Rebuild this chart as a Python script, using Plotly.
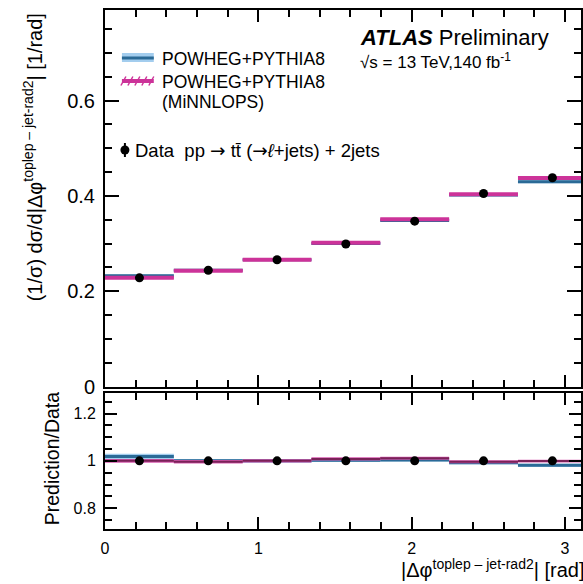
import numpy as np
import plotly.graph_objects as go

# ---------------- data ----------------
bin_edges = [0.0, 0.449, 0.898, 1.346, 1.795, 2.244, 2.693, 3.142]
data_vals = [0.2280, 0.2440, 0.2660, 0.2990, 0.3470, 0.4050, 0.4380]
data_errs = [0.0020, 0.0020, 0.0020, 0.0022, 0.0025, 0.0028, 0.0030]
powheg_vals = [0.2323, 0.2440, 0.2660, 0.2999, 0.3484, 0.4018, 0.4297]
powheg_unc = [0.0025, 0.0020, 0.0020, 0.0022, 0.0025, 0.0028, 0.0030]
minnlo_vals = [0.2280, 0.2430, 0.2660, 0.3014, 0.3508, 0.4034, 0.4376]
minnlo_unc = [0.0018, 0.0018, 0.0018, 0.0020, 0.0022, 0.0025, 0.0026]

x_ticks = [0, 1, 2, 3]

# ---------------- helpers ----------------
edges = np.array(bin_edges)
lo, hi = edges[:-1], edges[1:]
centers = (lo + hi) / 2


def seg(vals):
    xs, ys = [], []
    for a, b, v in zip(lo, hi, vals):
        xs += [a, b, None]
        ys += [v, v, None]
    return xs, ys


def band(vals, errs):
    xs, ys = [], []
    for a, b, v, e in zip(lo, hi, vals, errs):
        xs += [a, b, b, a, a, None]
        ys += [v - e, v - e, v + e, v + e, v - e, None]
    return xs, ys


data = np.array(data_vals)
r_pow = np.array(powheg_vals) / data
r_pow_e = np.array(powheg_unc) / data
r_min = np.array(minnlo_vals) / data
r_min_e = np.array(minnlo_unc) / data
r_dat = data / data

BLUE = "#2b6a96"
BLUE_BAND = "#a3cdee"
PINK = "#cc3399"
PINK_BAND = "#d65aae"
PINK_DARK = "#7a2258"

fig = go.Figure()

def add_set(xa, ya, pv, pe, mv, me, dv, de, ratio=False):
    x, y = band(pv, pe)
    fig.add_trace(go.Scatter(x=x, y=y, fill="toself", fillcolor=BLUE_BAND, line=dict(width=0),
                             mode="lines", hoverinfo="skip", showlegend=False, xaxis=xa, yaxis=ya))
    x, y = seg(pv)
    fig.add_trace(go.Scatter(x=x, y=y, mode="lines", line=dict(color=BLUE, width=3),
                             showlegend=False, xaxis=xa, yaxis=ya))
    x, y = band(mv, me)
    fig.add_trace(go.Scatter(x=x, y=y, fill="toself", fillcolor=PINK_BAND, line=dict(width=0),
                             mode="lines", hoverinfo="skip", showlegend=False, xaxis=xa, yaxis=ya))
    x, y = seg(mv)
    fig.add_trace(go.Scatter(x=x, y=y, mode="lines",
                             line=dict(color=PINK_DARK if ratio else PINK, width=2 if ratio else 4),
                             showlegend=False, xaxis=xa, yaxis=ya))
    fig.add_trace(go.Scatter(x=centers, y=dv, mode="markers",
                             marker=dict(color="black", size=9),
                             error_y=dict(type="data", array=de, color="black", thickness=2, width=0),
                             showlegend=False, xaxis=xa, yaxis=ya))

add_set("x", "y", powheg_vals, powheg_unc, minnlo_vals, minnlo_unc, data_vals, data_errs)
add_set("x2", "y2", r_pow, r_pow_e, r_min, r_min_e, r_dat, np.array(data_errs) / data, ratio=True)

# ---------------- layout ----------------
W, H = 583, 584
L, R, T, B = 105, 0, 10, 55
PW, PH = W - L - R, H - T - B


def PX(x):
    return (x - L) / PW


def PY(y):
    return (H - B - y) / PH


FONT = "Liberation Sans, Arial, Helvetica, sans-serif"
XMAX = 3.104

axis_common = dict(showgrid=False, zeroline=False, showline=True, linecolor="black", linewidth=2,
                   mirror="ticks", ticks="inside", tickcolor="black", tickwidth=2)

fig.update_layout(
    width=W, height=H, margin=dict(l=L, r=R, t=T, b=B),
    paper_bgcolor="white", plot_bgcolor="white",
    font=dict(family=FONT, color="black"),
    showlegend=False,
    xaxis=dict(domain=[0, 1], anchor="y", range=[0, XMAX], tickvals=x_ticks, showticklabels=False,
               ticklen=12, minor=dict(dtick=0.2, tick0=0, ticks="inside", ticklen=7, tickwidth=2, tickcolor="black"),
               **axis_common),
    yaxis=dict(domain=[PY(386.5), 1], anchor="x", range=[0, 0.79], dtick=0.2, tick0=0, ticklen=14,
               tickfont=dict(size=20, family=FONT), ticklabelstandoff=4,
               minor=dict(dtick=0.05, tick0=0, ticks="inside", ticklen=7, tickwidth=2, tickcolor="black"),
               **axis_common),
    xaxis2=dict(domain=[0, 1], anchor="y2", range=[0, XMAX], tickvals=x_ticks, matches="x",
                ticklen=12, tickfont=dict(size=16, family=FONT), ticklabelstandoff=4,
                minor=dict(dtick=0.2, tick0=0, ticks="inside", ticklen=7, tickwidth=2, tickcolor="black"),
                **axis_common),
    yaxis2=dict(domain=[0, PY(392.7)], anchor="x2", range=[0.712, 1.288], dtick=0.2, tick0=0, ticklen=12,
                tickfont=dict(size=16, family=FONT), ticklabelstandoff=4,
                minor=dict(dtick=0.05, tick0=0, ticks="inside", ticklen=7, tickwidth=2, tickcolor="black"),
                **axis_common),
)

ARROW = '<span style="font-family:DejaVu Sans">→</span>'

ann = []
ann.append(dict(x=PX(359), y=PY(37), xref="paper", yref="paper", xanchor="left", yanchor="middle",
                text="<b><i>ATLAS</i></b> Preliminary", showarrow=False, font=dict(size=22, family=FONT)))
ann.append(dict(x=PX(359), y=PY(61), xref="paper", yref="paper", xanchor="left", yanchor="middle",
                text="√s = 13 TeV,140 fb<sup>-1</sup>", showarrow=False, font=dict(size=17, family=FONT)))
ann.append(dict(x=PX(160), y=PY(59), xref="paper", yref="paper", xanchor="left", yanchor="middle",
                text="POWHEG+PYTHIA8", showarrow=False, font=dict(size=17.5, family=FONT)))
ann.append(dict(x=PX(160), y=PY(82), xref="paper", yref="paper", xanchor="left", yanchor="middle",
                text="POWHEG+PYTHIA8", showarrow=False, font=dict(size=17.5, family=FONT)))
ann.append(dict(x=PX(160), y=PY(102), xref="paper", yref="paper", xanchor="left", yanchor="middle",
                text="(MiNNLOPS)", showarrow=False, font=dict(size=17.5, family=FONT)))
ann.append(dict(x=PX(133), y=PY(150), xref="paper", yref="paper", xanchor="left", yanchor="middle",
                text="Data  pp " + ARROW + " tt\u0304 (" + ARROW + "<i>ℓ</i>+jets) + 2jets",
                showarrow=False, font=dict(size=18.5, family=FONT)))
# axis titles
ann.append(dict(x=PX(32), y=PY(157), xref="paper", yref="paper", xanchor="center", yanchor="middle",
                textangle=-90, text="(1/σ) dσ/d|Δφ<sup>toplep – jet-rad2</sup>| [1/rad]", showarrow=False,
                font=dict(size=20, family=FONT)))
ann.append(dict(x=PX(52), y=PY(459), xref="paper", yref="paper", xanchor="center", yanchor="middle",
                textangle=-90, text="Prediction/Data", showarrow=False, font=dict(size=19.5, family=FONT)))
ann.append(dict(x=PX(589), y=PY(568), xref="paper", yref="paper", xanchor="right", yanchor="middle",
                text="|Δφ<sup>toplep – jet-rad2</sup>| [rad]", showarrow=False, font=dict(size=20, family=FONT)))
fig.update_layout(annotations=ann)

shapes = []
# legend symbol: POWHEG band + line
shapes.append(dict(type="rect", xref="paper", yref="paper", x0=PX(122), x1=PX(154), y0=PY(62), y1=PY(53),
                   fillcolor=BLUE_BAND, line=dict(width=0)))
shapes.append(dict(type="line", xref="paper", yref="paper", x0=PX(122), x1=PX(154), y0=PY(58), y1=PY(58),
                   line=dict(color=BLUE, width=3)))
# legend symbol: MiNNLOPS hatched
shapes.append(dict(type="line", xref="paper", yref="paper", x0=PX(122), x1=PX(154), y0=PY(81), y1=PY(81),
                   line=dict(color=PINK, width=4)))
for xs in [124, 131, 138, 145, 152]:
    shapes.append(dict(type="line", xref="paper", yref="paper", x0=PX(xs - 3), x1=PX(xs + 2),
                       y0=PY(85.5), y1=PY(76.5), line=dict(color=PINK, width=1.5)))
# legend symbol: data
shapes.append(dict(type="line", xref="paper", yref="paper", x0=PX(125), x1=PX(125), y0=PY(157), y1=PY(143),
                   line=dict(color="black", width=2)))
shapes.append(dict(type="circle", xref="paper", yref="paper", xsizemode="pixel", ysizemode="pixel",
                   xanchor=PX(125), yanchor=PY(150), x0=-4.5, x1=4.5, y0=-4.5, y1=4.5,
                   fillcolor="black", line=dict(color="black", width=0)))
fig.update_layout(shapes=shapes)

fig.write_html("out.html")
